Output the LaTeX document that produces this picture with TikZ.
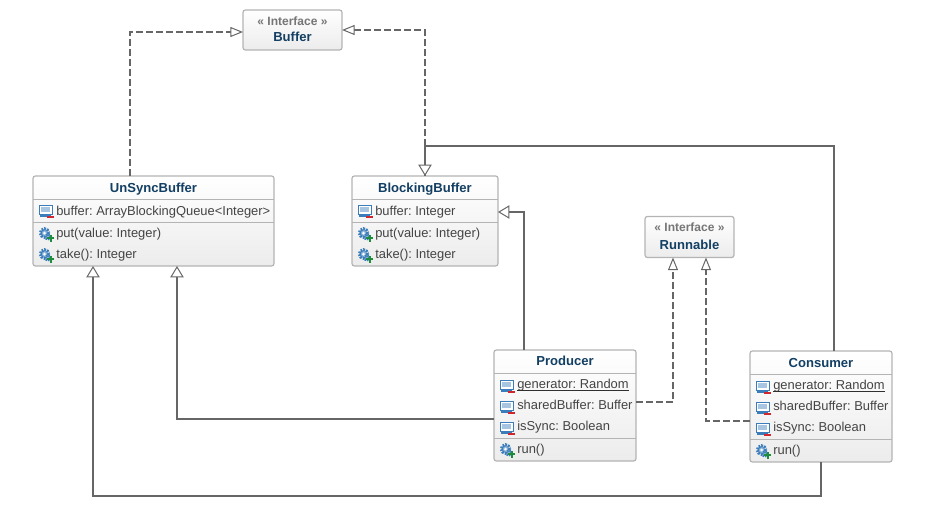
\documentclass[tikz,border=0pt]{standalone}
\usepackage{fontspec}
\setmainfont{Liberation Sans}
\usetikzlibrary{calc}
\usetikzlibrary{arrows.meta}

\definecolor{boxline}{HTML}{B4B4B4}
\definecolor{boxfill}{HTML}{ECECEC}
\definecolor{titleblue}{HTML}{123F63}
\definecolor{stereogray}{HTML}{767676}
\definecolor{membergray}{HTML}{444444}
\definecolor{linkgray}{HTML}{666666}
\definecolor{iconblue}{HTML}{3B7DBB}
\definecolor{iconred}{HTML}{D0262E}
\definecolor{icongreen}{HTML}{1E8C3C}

\tikzset{
    classbox/.style={draw=boxline,line width=0.9pt,rounded corners=1.8pt,top color=white,bottom color=boxfill,anchor=north west,inner sep=0pt,outer sep=0pt},
    classtitle/.style={font=\fontsize{9.8pt}{11pt}\selectfont\bfseries,text=titleblue,inner sep=0pt,text height=7pt,text depth=0pt},
    stereotype/.style={font=\fontsize{9pt}{10pt}\selectfont\bfseries,text=stereogray,inner sep=0pt,text height=6.5pt,text depth=0pt},
    member/.style={font=\fontsize{9.7pt}{11pt}\selectfont,text=membergray,anchor=west,inner sep=0pt,text height=7.5pt,text depth=0pt},
    divider/.style={draw=boxline,line width=0.75pt},
    underrule/.style={draw=membergray!70!black,line width=0.75pt},
    generalize/.style={draw=linkgray,line width=1.5pt,-{Triangle[open,fill=white,line width=0.75pt,length=8.5pt,width=10pt]}},
    realize/.style={draw=linkgray,line width=1.5pt,dash pattern=on 5.25pt off 2.25pt,-{Triangle[open,fill=white,line width=0.75pt,length=9.5pt,width=7.5pt]}},
    fieldicon/.pic={
        \draw[iconblue,line width=0.6pt,fill=white] (0,-6) rectangle (13,3);
        \fill[iconblue!45] (2,-4) rectangle (11,1);
        \draw[iconblue,line width=0.8pt] (1,5) -- (12,5);
        \fill[iconred] (8,4.5) rectangle (15,7);
    },
    methodicon/.pic={
        \draw[iconblue,line width=2.2pt,dash pattern=on 1.2pt off 0.9pt,fill=iconblue!60] (5.5,-1) circle (4.3);
        \fill[white] (5.5,-1) circle (1.5);
        \draw[iconblue,line width=1.6pt,dash pattern=on 1pt off 0.8pt,fill=iconblue!60] (9,3) circle (2.5);
        \fill[icongreen] (10.5,0.5) rectangle (12.5,7.5);
        \fill[icongreen] (8,3) rectangle (15,5);
    }
}

\begin{document}
\frenchspacing
\begin{tikzpicture}[x=0.75pt,y=-0.75pt]
    \useasboundingbox (0,0) rectangle (929,507);

    % Draw the class boxes
    \node[classbox,minimum width=74.25pt,minimum height=30pt] (buffer) at (243,10) {};
    \node[classbox,minimum width=180.75pt,minimum height=67.5pt] (unsync) at (33,176) {};
    \node[classbox,minimum width=109.5pt,minimum height=67.5pt] (blocking) at (352,176) {};
    \node[classbox,minimum width=66.75pt,minimum height=30.75pt] (runnable) at (645,216.5) {};
    \node[classbox,minimum width=106.5pt,minimum height=83.25pt] (producer) at (494,350) {};
    \node[classbox,minimum width=106.5pt,minimum height=83.25pt] (consumer) at (750,351) {};

    % Draw the interfaces
    \node[stereotype] (bufferStereo) at (292.5,21) {« Interface »};
    \node[classtitle] (bufferTitle) at (292.5,37) {Buffer};
    \node[stereotype] (runnableStereo) at (689.5,227.5) {« Interface »};
    \node[classtitle] (runnableTitle) at (689.5,244.7) {Runnable};

    % Draw UnSyncBuffer
    \node[classtitle] (unsyncTitle) at (153.5,187.5) {UnSyncBuffer};
    \draw[divider] (33,199) -- (274,199);
    \draw[divider] (33,222) -- (274,222);
    \pic at (39,211) {fieldicon};
    \pic at (39,234) {methodicon};
    \pic at (39,255) {methodicon};
    \node[member] (unsyncBuffer) at (56,210) {buffer: ArrayBlockingQueue<Integer>};
    \node[member] (unsyncPut) at (56,232) {put(value: Integer)};
    \node[member] (unsyncTake) at (56,253.5) {take(): Integer};

    % Draw BlockingBuffer
    \node[classtitle] (blockingTitle) at (425,187.5) {BlockingBuffer};
    \draw[divider] (352,199) -- (498,199);
    \draw[divider] (352,222) -- (498,222);
    \pic at (358,211) {fieldicon};
    \pic at (358,234) {methodicon};
    \pic at (358,255) {methodicon};
    \node[member] (blockingBuffer) at (375,210) {buffer: Integer};
    \node[member] (blockingPut) at (375,232) {put(value: Integer)};
    \node[member] (blockingTake) at (375,253.5) {take(): Integer};

    % Draw Producer
    \node[classtitle] (producerTitle) at (565,361.3) {Producer};
    \draw[divider] (494,373) -- (636,373);
    \draw[divider] (494,438) -- (636,438);
    \pic at (500,386) {fieldicon};
    \pic at (500,407) {fieldicon};
    \pic at (500,428) {fieldicon};
    \pic at (500,450) {methodicon};
    \node[member] (producerGenerator) at (517,383) {generator: Random};
    \node[member] (producerShared) at (517,404) {sharedBuffer: Buffer};
    \node[member] (producerSync) at (517,425) {isSync: Boolean};
    \node[member] (producerRun) at (517,448) {run()};
    \draw[underrule] ($(producerGenerator.south west)+(0,2.2)$) -- ($(producerGenerator.south east)+(0,2.2)$);

    % Draw Consumer
    \node[classtitle] (consumerTitle) at (821,362.5) {Consumer};
    \draw[divider] (750,374) -- (892,374);
    \draw[divider] (750,439) -- (892,439);
    \pic at (756,387) {fieldicon};
    \pic at (756,408) {fieldicon};
    \pic at (756,429) {fieldicon};
    \pic at (756,451) {methodicon};
    \node[member] (consumerGenerator) at (773,384) {generator: Random};
    \node[member] (consumerShared) at (773,405) {sharedBuffer: Buffer};
    \node[member] (consumerSync) at (773,426) {isSync: Boolean};
    \node[member] (consumerRun) at (773,449) {run()};
    \draw[underrule] ($(consumerGenerator.south west)+(0,2.2)$) -- ($(consumerGenerator.south east)+(0,2.2)$);

    % Draw realizations
    \draw[realize] ($(unsync.north)+(-23.5,0)$) |- ($(buffer.west)+(0,2)$);
    \draw[realize] (blocking.north) |- (buffer.east);
    \draw[realize] ($(producer.east)+(0,-3.5)$) -| ($(runnable.south)+(-16.5,0)$);
    \draw[realize] ($(consumer.west)+(0,14.5)$) -| ($(runnable.south)+(16.5,0)$);

    % Draw generalizations
    \draw[generalize] ($(consumer.north)+(13,0)$) |- ($(blocking.north)+(0,-30)$) -- (blocking.north);
    \draw[generalize] ($(producer.north)+(-41,0)$) |- ($(blocking.east)+(0,-9)$);
    \draw[generalize] ($(producer.west)+(0,13.5)$) -| ($(unsync.south)+(23.5,0)$);
    \draw[generalize] (consumer.south) -- ++(0,34) -| ($(unsync.south)+(-60.5,0)$);
\end{tikzpicture}
\end{document}
